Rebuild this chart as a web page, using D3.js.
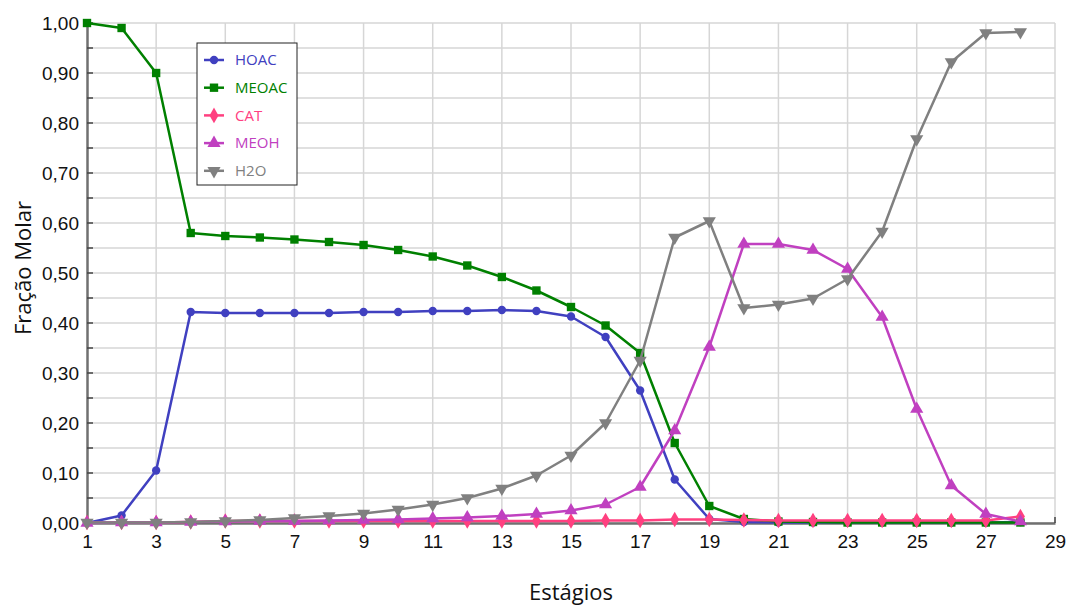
<!DOCTYPE html>
<html>
<head>
<meta charset="utf-8">
<script src="https://cdn.jsdelivr.net/npm/d3@7"></script>
<style>
  body { margin: 0; background: #fff; }
  svg { display: block; font-family: 'Open Sans', 'Noto Sans', sans-serif; }
</style>
</head>
<body>
<div id="chart"></div>
<script>
// Molar fraction per stage (stages 1..28)
const stages = d3.range(1, 29)
const seriesNames = ['HOAC', 'MEOAC', 'CAT', 'MEOH', 'H2O']

const hoac = [0.000, 0.015, 0.105, 0.422, 0.420, 0.420, 0.420, 0.420, 0.422, 0.422, 0.424, 0.424, 0.426, 0.424,
  0.413, 0.372, 0.265, 0.087, 0.008, 0.002, 0.001, 0.001, 0.001, 0.001, 0.001, 0.001, 0.001, 0.002]
const meoac = [1.000, 0.990, 0.900, 0.580, 0.574, 0.571, 0.567, 0.562, 0.556, 0.546, 0.533, 0.515, 0.492, 0.465,
  0.432, 0.395, 0.340, 0.160, 0.034, 0.008, 0.003, 0.002, 0.001, 0.001, 0.001, 0.001, 0.001, 0.001]
const cat = [0.001, 0.001, 0.001, 0.002, 0.004, 0.004, 0.004, 0.004, 0.004, 0.004, 0.004, 0.004, 0.004, 0.004,
  0.004, 0.005, 0.005, 0.007, 0.007, 0.006, 0.005, 0.005, 0.005, 0.005, 0.005, 0.005, 0.005, 0.013]
const meoh = [0.000, 0.001, 0.001, 0.002, 0.003, 0.004, 0.004, 0.005, 0.006, 0.007, 0.009, 0.011, 0.014, 0.018,
  0.025, 0.037, 0.072, 0.185, 0.352, 0.558, 0.558, 0.546, 0.508, 0.412, 0.228, 0.075, 0.018, 0.003]
const h2o = [0.001, 0.001, 0.001, 0.002, 0.004, 0.006, 0.010, 0.014, 0.019, 0.027, 0.037, 0.050, 0.069, 0.095,
  0.135, 0.200, 0.325, 0.571, 0.604, 0.430, 0.437, 0.449, 0.488, 0.583, 0.768, 0.922, 0.980, 0.982]

const xTicks = d3.range(1, 30, 2)
const yTicks = d3.range(0, 1.0001, 0.1)
const yGrid = d3.range(0, 1.0001, 0.05)

const colors = { HOAC: '#4040c0', MEOAC: '#008000', CAT: '#ff4080', MEOH: '#c040c0', H2O: '#808080' }
const symbols = { HOAC: d3.symbolCircle, MEOAC: d3.symbolSquare, CAT: d3.symbolDiamond, MEOH: d3.symbolTriangle, H2O: d3.symbolTriangle }
const symbolSize = { HOAC: 55, MEOAC: 70, CAT: 70, MEOH: 75, H2O: 75 }

const data = [
  { name: 'HOAC', values: hoac },
  { name: 'MEOAC', values: meoac },
  { name: 'CAT', values: cat },
  { name: 'MEOH', values: meoh },
  { name: 'H2O', values: h2o }
]

const width = 1069
const height = 606
const margin = { top: 23, right: 14, bottom: 83, left: 87 }
const innerWidth = width - margin.left - margin.right
const innerHeight = height - margin.top - margin.bottom

const svg = d3.select('#chart').append('svg')
  .attr('width', width)
  .attr('height', height)

const g = svg.append('g').attr('transform', `translate(${margin.left},${margin.top})`)

const x = d3.scaleLinear().domain([1, 29]).range([0, innerWidth])
const y = d3.scaleLinear().domain([0, 1]).range([innerHeight, 0])

// grid
g.append('g').selectAll('line')
  .data(yGrid)
  .join('line')
  .attr('x1', 0).attr('x2', innerWidth)
  .attr('y1', d => y(d)).attr('y2', d => y(d))
  .attr('stroke', '#d6d6d6').attr('stroke-width', 1.5)

g.append('g').selectAll('line')
  .data(xTicks.slice(1))
  .join('line')
  .attr('x1', d => x(d)).attr('x2', d => x(d))
  .attr('y1', 0).attr('y2', innerHeight)
  .attr('stroke', '#d6d6d6').attr('stroke-width', 1.5)

// axes
const yAxis = d3.axisLeft(y).tickValues(yTicks).tickSize(0).tickPadding(8)
  .tickFormat(d => d3.format('.2f')(d).replace('.', ','))
const yAx = g.append('g').call(yAxis)
yAx.select('.domain').attr('stroke', '#707070').attr('stroke-width', 2.5)
yAx.selectAll('text').attr('font-size', 19).attr('fill', '#111')

// inward ticks every 0.05
g.append('g').selectAll('line')
  .data(yGrid.slice(1))
  .join('line')
  .attr('x1', 0).attr('x2', 6)
  .attr('y1', d => y(d)).attr('y2', d => y(d))
  .attr('stroke', '#444').attr('stroke-width', 1.5)

const xAxis = d3.axisBottom(x).tickValues(xTicks).tickSize(0).tickPadding(12)
const xAx = g.append('g').attr('transform', `translate(0,${innerHeight})`).call(xAxis)
xAx.select('.domain').attr('stroke', '#707070').attr('stroke-width', 2.5)
xAx.selectAll('text').attr('font-size', 19).attr('fill', '#111')

g.append('line')
  .attr('x1', innerWidth).attr('x2', innerWidth)
  .attr('y1', innerHeight).attr('y2', innerHeight - 6)
  .attr('stroke', '#444').attr('stroke-width', 1.5)

// axis titles
svg.append('text')
  .attr('x', 571).attr('y', 600)
  .attr('text-anchor', 'middle')
  .attr('font-size', 22).attr('fill', '#111')
  .text('Estágios')

svg.append('text')
  .attr('transform', `translate(31,${margin.top + y(0.51)}) rotate(-90)`)
  .attr('text-anchor', 'middle')
  .attr('font-size', 22).attr('fill', '#111')
  .text('Fração Molar')

// series
const line = d3.line()
  .x((d, i) => x(stages[i]))
  .y(d => y(d))

const series = g.append('g').selectAll('g')
  .data(data)
  .join('g')

series.append('path')
  .attr('d', d => line(d.values))
  .attr('fill', 'none')
  .attr('stroke', d => colors[d.name])
  .attr('stroke-width', 2.5)
  .attr('stroke-linejoin', 'round')

series.each(function (s) {
  const sym = d3.symbol().type(symbols[s.name]).size(symbolSize[s.name])
  d3.select(this).selectAll('path.marker')
    .data(s.values)
    .join('path')
    .attr('class', 'marker')
    .attr('transform', (d, i) => `translate(${x(stages[i])},${y(d)})` + (s.name === 'H2O' ? ' rotate(180)' : ''))
    .attr('d', sym)
    .attr('fill', colors[s.name])
})

// legend
const legend = svg.append('g').attr('transform', 'translate(197,43)')
legend.append('rect')
  .attr('width', 100).attr('height', 142)
  .attr('fill', '#fff').attr('stroke', '#222').attr('stroke-width', 1)

const items = legend.selectAll('g')
  .data(seriesNames)
  .join('g')
  .attr('transform', (d, i) => `translate(0,${17 + i * 27.7})`)

items.append('line')
  .attr('x1', 7).attr('x2', 27)
  .attr('stroke', d => colors[d]).attr('stroke-width', 2.5)

items.append('path')
  .attr('transform', d => 'translate(17,0)' + (d === 'H2O' ? ' rotate(180)' : ''))
  .attr('d', d => d3.symbol().type(symbols[d]).size(symbolSize[d])())
  .attr('fill', d => colors[d])

items.append('text')
  .attr('x', 38).attr('dy', '0.35em')
  .attr('font-size', 15)
  .attr('fill', d => colors[d])
  .text(d => d)
</script>
</body>
</html>
